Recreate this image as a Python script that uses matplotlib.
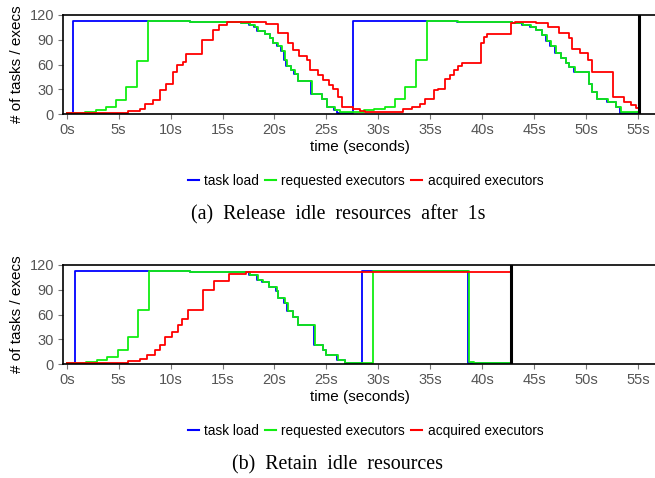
import matplotlib
matplotlib.use("Agg")
import matplotlib.pyplot as plt
from matplotlib.lines import Line2D

plt.rcParams['font.family'] = ['Liberation Sans', 'DejaVu Sans']

# ---------------- data: (a) release idle resources after 1s ----------------
a_task_t = [0, 0.6, 11.9, 16.75, 17.55, 18.05, 18.35, 19.05, 19.55, 19.85, 20.25, 20.65,
            20.95, 21.15, 21.55, 21.9, 22.25, 23.55, 24.55, 25.05, 25.75, 26.0, 27.6,
            37.6, 42.85, 43.85, 44.65, 45.15, 45.75, 46.15, 46.55, 47.05, 47.55, 48.05,
            48.35, 48.85, 50.25, 50.55, 51.05, 52.05, 52.85, 53.3, 55.1]
a_task_v = [1, 113, 112, 110, 108, 106, 101, 97, 92, 86, 82, 76,
            66, 58, 54, 49, 40, 24, 18, 9, 5, 1, 113,
            112, 110, 108, 106, 102, 96, 88, 82, 74, 68, 62,
            57, 51, 37, 27, 19, 15, 9, 1, 1]

a_req_t = [0, 1.8, 2.8, 3.8, 4.75, 5.75, 6.8, 7.8, 11.9, 16.8, 17.6, 18.1, 18.4, 19.1,
           19.6, 19.9, 20.3, 20.7, 21.0, 21.2, 21.6, 21.95, 22.3, 23.6, 24.6, 25.1,
           25.8, 26.3, 28.6, 29.6, 30.6, 31.65, 32.6, 33.65, 34.7, 37.65, 42.9, 43.9,
           44.7, 45.2, 45.8, 46.2, 46.6, 47.1, 47.6, 48.1, 48.4, 48.9, 50.3, 50.6,
           51.1, 52.1, 52.9, 53.4, 55.1]
a_req_v = [1, 3, 5, 9, 17, 33, 65, 113, 112, 110, 108, 106, 101, 97,
           92, 86, 82, 76, 66, 58, 54, 49, 40, 24, 18, 9,
           5, 3, 5, 6, 9, 18, 33, 66, 113, 112, 110, 108,
           106, 102, 96, 88, 82, 74, 68, 62, 57, 51, 37, 27,
           19, 15, 9, 3, 3]

a_acq_t = [0, 5.9, 7.05, 7.5, 8.3, 9.0, 9.6, 10.25, 10.6, 11.2, 11.5, 13.0, 14.1,
           14.7, 15.4, 16.0, 19.2, 20.35, 21.3, 21.8, 22.4, 23.1, 23.4, 24.2, 24.7,
           25.3, 25.6, 26.1, 26.5, 27.6, 28.2, 28.7, 32.4, 33.2, 34.0, 34.5, 34.9,
           35.4, 35.7, 36.4, 36.9, 37.3, 37.7, 38.1, 39.9, 40.2, 40.5, 42.8, 43.2,
           45.2, 46.3, 47.4, 48.4, 48.6, 49.4, 50.2, 50.6, 52.6, 53.7, 54.3, 54.8, 55.1]
a_acq_v = [1, 4, 7, 13, 17, 29, 37, 51, 59, 63, 73, 90, 102,
           108, 111, 112, 109, 98, 86, 78, 70, 66, 54, 47, 41,
           35, 31, 21, 9, 6, 4.5, 3, 7, 9, 12, 18, 19,
           29, 31, 43, 47, 54, 58, 62, 86, 94, 97, 110, 112,
           110, 106, 98, 92, 79, 74, 66, 51.5, 21, 15, 11, 8, 8]
a_end = 55.1

# ---------------- data: (b) retain idle resources ----------------
b_task_t = [0, 0.8, 11.9, 16.75, 17.55, 18.35, 18.85, 19.45, 20.15, 20.3, 20.95, 21.25,
            21.75, 22.25, 23.85, 24.65, 24.95, 26.05, 26.75, 28.4, 38.6, 42.8]
b_task_v = [1, 113, 112, 111, 108, 102, 100, 94, 88, 80, 74, 64,
            57, 47, 23, 17, 11, 5, 1, 113, 1, 1]

b_req_t = [0, 1.9, 2.9, 3.9, 4.9, 5.9, 6.9, 7.9, 11.9, 16.8, 17.6, 18.4, 18.9, 19.5,
           20.2, 20.35, 21.0, 21.3, 21.8, 22.3, 23.9, 24.7, 25.0, 26.1, 26.8, 29.5,
           38.7, 39.2, 42.8]
b_req_v = [1, 3, 5, 9, 17, 33, 66, 113, 112, 111, 108, 102, 100, 94,
           88, 80, 74, 64, 57, 47, 23, 17, 11, 5, 2, 113,
           3, 2, 2]

b_acq_t = [0, 5.9, 7.05, 7.7, 8.5, 9.0, 9.5, 10.1, 10.7, 11.1, 11.7, 13.1, 14.2,
           15.6, 17.3, 42.8]
b_acq_v = [1, 4, 7, 11, 17, 23, 33, 39, 47, 55, 66, 90, 101,
           109, 112, 112]
b_end = 42.8

x_ticks = [0, 5, 10, 15, 20, 25, 30, 35, 40, 45, 50, 55]
x_labels = ["0s", "5s", "10s", "15s", "20s", "25s", "30s", "35s", "40s", "45s", "50s", "55s"]
y_ticks = [0, 30, 60, 90, 120]

series_labels = ["task load", "requested executors", "acquired executors"]
colors = ["#0000ff", "#11ee11", "#ff0000"]
captions = ["(a)  Release  idle  resources  after  1s", "(b)  Retain  idle  resources"]

# ---------------- figure ----------------
W, H = 655, 478
fig = plt.figure(figsize=(W / 100, H / 100), dpi=100)

x0_px, px_per_s = 66.7, 10.387
left_px, right_px = 63, 657
xlim = ((left_px - x0_px) / px_per_s, (right_px - x0_px) / px_per_s)

panels = [
    (15.0, 114.3, (a_task_t, a_task_v), (a_req_t, a_req_v), (a_acq_t, a_acq_v), a_end),
    (265.0, 364.3, (b_task_t, b_task_v), (b_req_t, b_req_v), (b_acq_t, b_acq_v), b_end),
]
legend_y = [181, 431]
caption_y = [215, 465]

for i, (top, bot, task, req, acq, end) in enumerate(panels):
    ax = fig.add_axes([left_px / W, 1 - bot / H, (right_px - left_px) / W, (bot - top) / H])
    for (t, v), c in zip([task, req, acq], colors):
        ax.plot(t, v, drawstyle='steps-post', color=c, lw=1.3)
    ax.axvline(end, color='black', lw=2.2)
    ax.set_xlim(*xlim)
    ax.set_ylim(0, 120)
    ax.set_xticks(x_ticks)
    ax.set_xticklabels(x_labels)
    ax.set_yticks(y_ticks)
    for s in ['top', 'bottom', 'left']:
        ax.spines[s].set_linewidth(1.2)
        ax.spines[s].set_color('black')
    ax.spines['right'].set_visible(False)
    ax.tick_params(axis='both', colors='#777777', labelcolor='#555555', length=3.5,
                   width=0.8, labelsize=10.5, pad=3)
    ax.set_xlabel("time (seconds)", fontsize=11, color='black', labelpad=2)
    ax.set_ylabel("# of tasks / execs", fontsize=11, color='black', labelpad=4)

    handles = [Line2D([0], [0], color=c, lw=1.5) for c in colors]
    fig.legend(handles, series_labels, loc='center', ncol=3,
               bbox_to_anchor=(365.5 / W, 1 - legend_y[i] / H), frameon=False,
               fontsize=9.8, handlelength=0.8, handletextpad=0.4, columnspacing=0.45,
               borderpad=0, borderaxespad=0)
    fig.text(338 / W, 1 - caption_y[i] / H, captions[i], ha='center', va='center',
             family=['Liberation Serif', 'DejaVu Serif'], fontsize=14.4)

fig.savefig("out.png", dpi=100)
